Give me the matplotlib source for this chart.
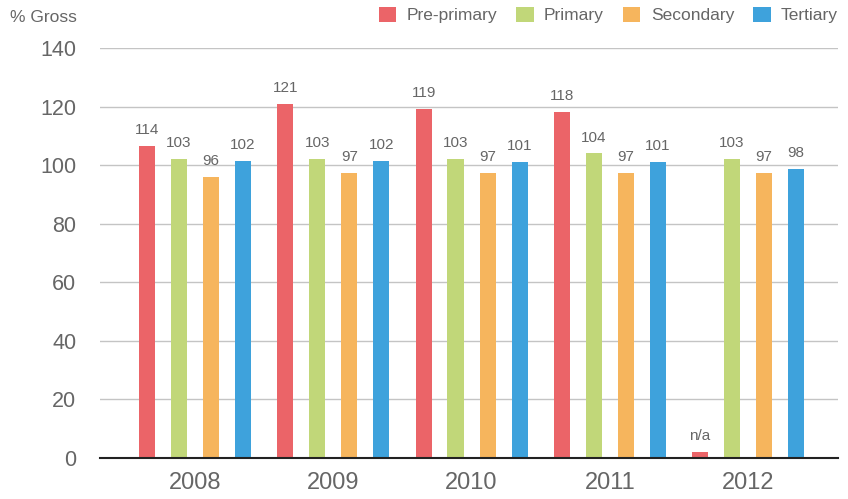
import matplotlib.pyplot as plt
import numpy as np

years = ['2008', '2009', '2010', '2011', '2012']
series = ['Pre-primary', 'Primary', 'Secondary', 'Tertiary']
colors = ['#EB6468', '#C1D779', '#F6B55D', '#3EA2DC']

# bar heights as drawn in the picture
heights = [
    [106.5, 121, 119.3, 118.3, 2],
    [102.2, 102.2, 102.2, 104, 102.2],
    [96, 97.4, 97.4, 97.4, 97.4],
    [101.4, 101.4, 101, 101, 98.6],
]
# printed labels
labels = [
    ['114', '121', '119', '118', 'n/a'],
    ['103', '103', '103', '104', '103'],
    ['96', '97', '97', '97', '97'],
    ['102', '102', '101', '101', '98'],
]

plt.rcParams['font.family'] = ['Liberation Sans', 'DejaVu Sans']
grey = '#666666'

fig = plt.figure(figsize=(8.48, 4.99), dpi=100)
ax = fig.add_axes([100/848, 41/499, 738/848, 410/499])

x = np.arange(len(years))
width = 0.116
offsets = [-0.347, -0.116, 0.116, 0.347]

for i in range(len(series)):
    bars = ax.bar(x + offsets[i], heights[i], width, color=colors[i], label=series[i], zorder=3)
    for b, lab in zip(bars, labels[i]):
        ax.text(b.get_x() + b.get_width()/2, b.get_height() + 3, lab,
                ha='center', va='bottom', fontsize=11, color=grey)

ax.set_xlim(-0.687, 4.65)
ax.set_ylim(0, 140)
ax.set_yticks(range(0, 141, 20))
ax.set_xticks(x)
ax.set_xticklabels(years)
ax.yaxis.grid(True, color='#c4c4c4', linewidth=1, zorder=0)
for s in ['top', 'right', 'left']:
    ax.spines[s].set_visible(False)
ax.spines['bottom'].set_color('#222222')
ax.spines['bottom'].set_linewidth(1.5)
ax.spines['bottom'].set_zorder(4)
ax.tick_params(axis='y', length=0, labelsize=15.5, labelcolor=grey, pad=17)
ax.tick_params(axis='x', length=0, labelsize=17, labelcolor=grey, pad=10)

fig.text(10/848, 1 - 17/499, '% Gross', fontsize=12.5, color=grey, va='center', ha='left')

ax.legend(loc='center right', bbox_to_anchor=(1.0, 1 + 33/410), ncol=4, frameon=False,
          fontsize=12.5, labelcolor=grey, handlelength=1.0, handleheight=1.0,
          handletextpad=0.6, columnspacing=1.1, borderaxespad=0, borderpad=0)

plt.savefig('out.png', dpi=100)
